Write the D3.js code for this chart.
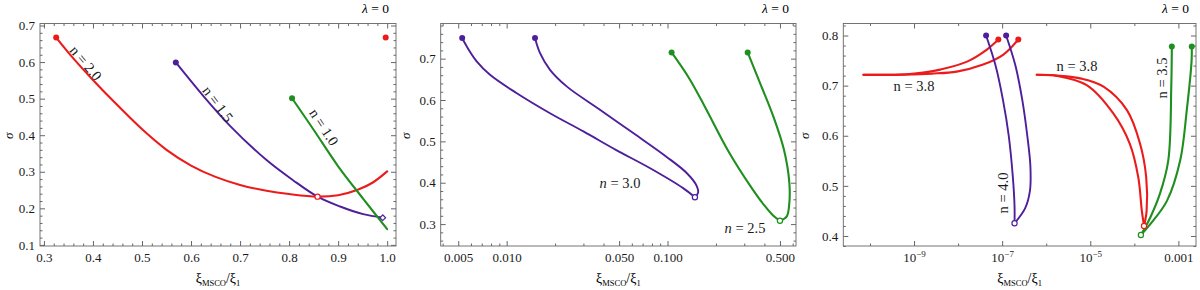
<!DOCTYPE html>
<html><head><meta charset="utf-8">
<script src="https://cdn.jsdelivr.net/npm/d3@7"></script>
<style>
body{margin:0;background:#fff;}
svg text{font-family:"Liberation Serif","Times New Roman","DejaVu Serif",serif;}
</style></head><body>
<script>
// ---- panel 1 : linear x
var p1n20 = [[0.325,0.667],[0.36,0.61],[0.40,0.551],[0.441,0.494],[0.502,0.414],[0.55,0.36],[0.60,0.317],[0.65,0.286],[0.70,0.264],[0.754,0.248],[0.80,0.239],[0.858,0.232],[0.90,0.236],[0.94,0.251],[0.970,0.270],[1.0,0.301]];
var p1n15 = [[0.569,0.599],[0.624,0.509],[0.68,0.425],[0.754,0.332],[0.808,0.277],[0.858,0.232],[0.904,0.205],[0.951,0.184],[0.991,0.1745]];
var p1n10 = [[0.806,0.501],[0.85,0.415],[0.90,0.315],[0.95,0.228],[1.0,0.143]];
var p1Filled = [['red',0.325,0.667],['purple',0.569,0.599],['green',0.806,0.501],['red',0.997,0.667]];
var p1Open = [['red',0.858,0.232]];
var p1Diamond = [['purple',0.991,0.1745]];
var p1XTicks = [0.3,0.4,0.5,0.6,0.7,0.8,0.9,1.0];
var p1YTicks = [0.1,0.2,0.3,0.4,0.5,0.6,0.7];

// ---- panel 2 : log x
var p2n30a = [[0.00529,0.75],[0.00564,0.730],[0.00651,0.6935],[0.00788,0.661],[0.0115,0.617],[0.0186,0.568],[0.030,0.524],[0.048,0.479],[0.078,0.435],[0.125,0.387],[0.148,0.365]];
var p2n30b = [[0.015,0.75],[0.0161,0.714],[0.0186,0.673],[0.0236,0.633],[0.0382,0.576],[0.0612,0.52],[0.0983,0.463],[0.132,0.423],[0.152,0.392],[0.155,0.376],[0.148,0.365]];
var p2n25a = [[0.106,0.715],[0.135,0.655],[0.17,0.585],[0.24,0.475],[0.33,0.39],[0.40,0.345],[0.455,0.32],[0.5,0.308]];
var p2n25b = [[0.315,0.715],[0.376,0.641],[0.455,0.56],[0.53,0.479],[0.572,0.399],[0.57,0.345],[0.55,0.318],[0.5,0.308]];
var p2Filled = [['purple',0.00529,0.75],['purple',0.015,0.75],['green',0.106,0.715],['green',0.315,0.715]];
var p2Open = [['purple',0.148,0.365],['green',0.5,0.308]];
var p2XTicks = [0.005,0.01,0.05,0.1,0.5];
var p2YTicks = [0.3,0.4,0.5,0.6,0.7];

// ---- panel 3 : log x
var p3n38a = [[7.1e-11,0.7215],[6.8e-10,0.7225],[1.6e-9,0.726],[3.9e-9,0.732],[1.6e-8,0.748],[4.5e-8,0.772],[8.2e-8,0.792]];
var p3n38b = [[7.1e-11,0.7215],[6.8e-10,0.7222],[2.5e-9,0.724],[9.3e-9,0.728],[3.7e-8,0.742],[1.07e-7,0.762],[2.33e-7,0.792]];
var p3n40a = [[4.32e-8,0.80],[7.08e-8,0.74],[1.05e-7,0.67],[1.41e-7,0.60],[1.74e-7,0.52],[1.91e-7,0.46],[1.91e-7,0.4255]];
var p3n40b = [[1.23e-7,0.80],[2.0e-7,0.74],[2.88e-7,0.67],[3.72e-7,0.60],[4.37e-7,0.54],[4.27e-7,0.49],[3.31e-7,0.455],[1.91e-7,0.4255]];
var p3n38c = [[6.1e-7,0.7216],[1.74e-6,0.720],[6.3e-6,0.714],[2.0e-5,0.698],[6.8e-5,0.651],[1.35e-4,0.584],[1.86e-4,0.517],[1.9e-4,0.450],[1.66e-4,0.420]];
var p3n38d = [[6.1e-7,0.7216],[1.74e-6,0.7195],[8.3e-6,0.701],[3.3e-5,0.645],[7.9e-5,0.584],[1.23e-4,0.517],[1.48e-4,0.450],[1.66e-4,0.420]];
var p3n35a = [[2.01e-3,0.778],[2.0e-3,0.752],[1.55e-3,0.651],[1.1e-3,0.551],[5.5e-4,0.470],[2.3e-4,0.4235],[1.41e-4,0.402]];
var p3n35b = [[7.1e-4,0.778],[6.9e-4,0.70],[5.9e-4,0.551],[3.8e-4,0.484],[2.3e-4,0.437],[1.41e-4,0.402]];
var p3Filled = [['red',8.2e-8,0.792],['red',2.33e-7,0.792],['purple',4.32e-8,0.80],['purple',1.23e-7,0.80],['green',7.1e-4,0.778],['green',2.01e-3,0.778]];
var p3Open = [['purple',1.91e-7,0.4255],['red',1.66e-4,0.420],['green',1.41e-4,0.402]];
var p3XTicks = [1e-9,1e-7,1e-5,1e-3];
var p3XMinor = [1e-10,1e-8,1e-6,1e-4];
var p3YTicks = [0.4,0.5,0.6,0.7,0.8];

var colors = {red:'#ec1b1b', purple:'#4e1f9a', green:'#1f8f1f'};
var FONT = '"Liberation Serif","Times New Roman","DejaVu Serif",serif';

var H = 222.5, TOP = 23.5;

var svg = d3.select('body').append('svg')
    .attr('width',1200)
    .attr('height',290)
    .attr('font-family',FONT);

function linMinor(x, major, step) {
    var dom = x.domain(), out = [];
    var v0 = Math.ceil(dom[0]/step)*step;
    for (var v = v0; v <= dom[1] + 1e-9; v += step) {
        if (!major.some(function(m){ return Math.abs(m-v) < step/4; })) out.push(+v.toFixed(6));
    }
    return out;
}

function logMinor(x, major) {
    var dom = x.domain(), out = [];
    for (var e = Math.floor(Math.log10(dom[0])); e <= Math.ceil(Math.log10(dom[1])); e++) {
        for (var k = 1; k < 10; k++) {
            var v = k*Math.pow(10,e);
            if (v < dom[0] || v > dom[1]) continue;
            if (major.some(function(m){ return Math.abs(m-v)/v < 1e-6; })) continue;
            out.push(v);
        }
    }
    return out;
}

function framed(g, x, y, w, xMaj, xMin, yMaj, yMin, xFmt, yFmt) {
    function style(a) {
        a.attr('font-size',13).attr('font-family',FONT);
        a.selectAll('.domain').remove();
        a.selectAll('line').attr('stroke','#666');
        a.selectAll('text').attr('fill','#1a1a1a');
        return a;
    }
    style(g.append('g').attr('transform','translate(0,'+H+')')
        .call(d3.axisBottom(x).tickValues(xMaj).tickSize(-5).tickPadding(7).tickFormat(xFmt)));
    style(g.append('g').attr('transform','translate(0,'+H+')')
        .call(d3.axisBottom(x).tickValues(xMin).tickSize(-2.5).tickFormat('')));
    style(g.append('g').call(d3.axisTop(x).tickValues(xMaj).tickSize(-5).tickFormat('')));
    style(g.append('g').call(d3.axisTop(x).tickValues(xMin).tickSize(-2.5).tickFormat('')));
    style(g.append('g').call(d3.axisLeft(y).tickValues(yMaj).tickSize(-5).tickPadding(5).tickFormat(yFmt)));
    style(g.append('g').call(d3.axisLeft(y).tickValues(yMin).tickSize(-2.5).tickFormat('')));
    style(g.append('g').attr('transform','translate('+w+',0)')
        .call(d3.axisRight(y).tickValues(yMaj).tickSize(-5).tickFormat('')));
    style(g.append('g').attr('transform','translate('+w+',0)')
        .call(d3.axisRight(y).tickValues(yMin).tickSize(-2.5).tickFormat('')));
    g.append('rect')
        .attr('width',w).attr('height',H)
        .attr('fill','none').attr('stroke','#666').attr('stroke-width',0.9);
}

function labels(g, w, yOff) {
    var t = g.append('text')
        .attr('x',w-7).attr('y',-11)
        .attr('text-anchor','end')
        .attr('font-size',13.5);
    t.append('tspan').attr('font-style','italic').text('λ');
    t.append('tspan').text(' = 0');

    g.append('text')
        .attr('transform','translate('+yOff+','+(H/2+1)+') rotate(-90)')
        .attr('text-anchor','middle')
        .attr('font-size',13)
        .attr('font-style','italic')
        .text('σ');

    var xl = g.append('text')
        .attr('x',w/2).attr('y',H+37)
        .attr('text-anchor','middle')
        .attr('font-size',14);
    xl.append('tspan').text('ξ');
    xl.append('tspan').attr('font-size',8.5).attr('dy',3).text('MSCO');
    xl.append('tspan').attr('dy',-3).text('/ξ');
    xl.append('tspan').attr('font-size',8.5).attr('dy',3).text('1');
}

function curves(g, x, y, series, filled, open, diamonds) {
    var line = d3.line()
        .x(function(d){ return x(d[0]); })
        .y(function(d){ return y(d[1]); })
        .curve(d3.curveCatmullRom.alpha(0.5));
    series.forEach(function(s){
        g.append('path')
            .attr('d', line(s[1]))
            .attr('fill','none')
            .attr('stroke', colors[s[0]])
            .attr('stroke-width', s[0]=='purple' ? 1.9 : 2.1)
            .attr('stroke-linecap','round');
    });
    g.selectAll('.dot').data(filled).enter().append('circle')
        .attr('cx', function(d){ return x(d[1]); })
        .attr('cy', function(d){ return y(d[2]); })
        .attr('r', 3)
        .attr('fill', function(d){ return colors[d[0]]; });
    g.selectAll('.open').data(open).enter().append('circle')
        .attr('cx', function(d){ return x(d[1]); })
        .attr('cy', function(d){ return y(d[2]); })
        .attr('r', 2.6)
        .attr('fill','#fff')
        .attr('stroke', function(d){ return colors[d[0]]; })
        .attr('stroke-width',1.2);
    g.selectAll('.diam').data(diamonds || []).enter().append('path')
        .attr('d', d3.symbol().type(d3.symbolSquare).size(16))
        .attr('transform', function(d){ return 'translate('+x(d[1])+','+y(d[2])+') rotate(45)'; })
        .attr('fill','#fff')
        .attr('stroke', function(d){ return colors[d[0]]; })
        .attr('stroke-width',1.2);
}

function curveLabel(g, px, py, rot, txt, italic) {
    var t = g.append('text')
        .attr('transform','translate('+px+','+py+') rotate('+rot+')')
        .attr('text-anchor','middle')
        .attr('dy','0.35em')
        .attr('font-size',14.5)
        .attr('fill','#1a1a1a');
    t.append('tspan').attr('font-style', italic ? 'italic' : 'normal').text('n');
    t.append('tspan').text(' = ' + txt);
}

// ---------- panel 1
var w1 = 356, g1 = svg.append('g').attr('transform','translate(40,'+TOP+')');
var x1 = d3.scaleLinear().domain([0.292,1.018]).range([0,w1]);
var y1 = d3.scaleLinear().domain([0.097,0.7055]).range([H,0]);
framed(g1, x1, y1, w1, p1XTicks, linMinor(x1,p1XTicks,0.02), p1YTicks, linMinor(y1,p1YTicks,0.02), d3.format('.1f'), d3.format('.1f'));
curves(g1, x1, y1, [['red',p1n20],['purple',p1n15],['green',p1n10]], p1Filled, p1Open, p1Diamond);
labels(g1, w1, -27);
curveLabel(g1, 86-40, 63-TOP, 50, '2.0');
curveLabel(g1, 218-40, 104-TOP, 53, '1.5');
curveLabel(g1, 324-40, 127-TOP, 57, '1.0');

// ---------- panel 2
var w2 = 355.3, g2 = svg.append('g').attr('transform','translate(440.7,'+TOP+')');
var x2 = d3.scaleLog().domain([0.00389,0.629]).range([0,w2]);
var y2 = d3.scaleLinear().domain([0.247,0.785]).range([H,0]);
framed(g2, x2, y2, w2, p2XTicks, logMinor(x2,p2XTicks), p2YTicks, linMinor(y2,p2YTicks,0.02), d3.format('.3f'), d3.format('.1f'));
curves(g2, x2, y2, [['purple',p2n30a],['purple',p2n30b],['green',p2n25a],['green',p2n25b]], p2Filled, p2Open);
labels(g2, w2, -31);
curveLabel(g2, 620-440.7, 183-TOP, 0, '3.0', true);
curveLabel(g2, 745-440.7, 228-TOP, 0, '2.5', true);

// ---------- panel 3
var w3 = 352.7, g3 = svg.append('g').attr('transform','translate(843.3,'+TOP+')');
var x3 = d3.scaleLog().domain([2.48e-11,2.51e-3]).range([0,w3]);
var y3 = d3.scaleLinear().domain([0.38,0.824]).range([H,0]);
framed(g3, x3, y3, w3, p3XTicks, p3XMinor, p3YTicks, linMinor(y3,p3YTicks,0.02), function(d){ return String(d); }, d3.format('.1f'));
g3.selectAll('.tick text').filter(function(d){ return d < 1e-4 && this.textContent != ''; }).each(function(d){
    var t = d3.select(this), e = Math.round(Math.log10(d));
    t.text('');
    t.append('tspan').text('10');
    t.append('tspan').attr('font-size',9).attr('dy',-5).text('−' + Math.abs(e));
});
g3.selectAll('.tick text').filter(function(d){ return d == 1e-3 && this.textContent != ''; }).text('0.001');
curves(g3, x3, y3, [['red',p3n38a],['red',p3n38b],['purple',p3n40a],['purple',p3n40b],['red',p3n38c],['red',p3n38d],['green',p3n35a],['green',p3n35b]], p3Filled, p3Open);
labels(g3, w3, -34);
curveLabel(g3, 914-843.3, 86-TOP, 0, '3.8');
curveLabel(g3, 1077-843.3, 66-TOP, 0, '3.8');
curveLabel(g3, 1003-843.3, 193-TOP, -90, '4.0');
curveLabel(g3, 1162-843.3, 78-TOP, -90, '3.5');
</script>
</body></html>
